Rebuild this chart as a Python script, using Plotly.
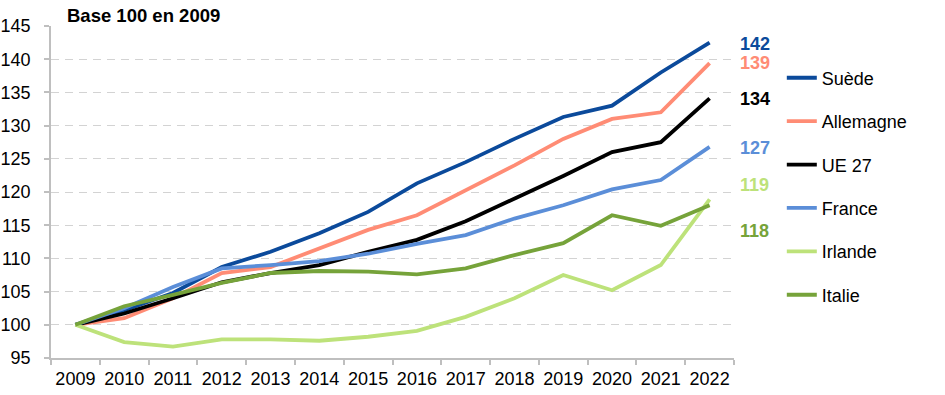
import plotly.graph_objects as go

years = ["2009", "2010", "2011", "2012", "2013", "2014", "2015", "2016",
         "2017", "2018", "2019", "2020", "2021", "2022"]

suede = [100, 102.2, 104.8, 108.7, 111.0, 113.8, 117.0, 121.3, 124.5, 128.0, 131.3, 133.0, 138.0, 142.5]
allemagne = [100, 101.0, 104.0, 107.8, 108.7, 111.5, 114.3, 116.5, 120.3, 124.0, 128.0, 131.0, 132.0, 139.4]
ue27 = [100, 101.7, 104.0, 106.4, 107.8, 109.0, 111.0, 112.8, 115.6, 119.0, 122.4, 126.0, 127.5, 134.1]
france = [100, 102.5, 105.7, 108.5, 109.0, 109.6, 110.7, 112.2, 113.5, 116.0, 118.0, 120.4, 121.8, 126.8]
irlande = [100, 97.4, 96.7, 97.8, 97.8, 97.6, 98.2, 99.1, 101.2, 104.0, 107.5, 105.2, 109.0, 118.9]
italie = [100, 102.8, 104.5, 106.3, 107.8, 108.1, 108.0, 107.6, 108.5, 110.5, 112.3, 116.5, 114.9, 118.0]

series_names = ["Suède", "Allemagne", "UE 27", "France", "Irlande", "Italie"]
series_values = [suede, allemagne, ue27, france, irlande, italie]
series_colors = ["#0B4A9B", "#FF8C75", "#000000", "#5B8ED8", "#BDE27A", "#76A33A"]
end_labels = ["142", "139", "134", "127", "119", "118"]
label_shift = [-1, 0, -1, -1, 14, -26]

FONT = "Liberation Sans, Arial, sans-serif"
FS = 18

fig = go.Figure()
last_idx = len(years) - 1
for i, (name, vals, col) in enumerate(zip(series_names, series_values, series_colors)):
    fig.add_trace(go.Scatter(
        x=years, y=vals, mode="lines", name=name,
        line=dict(color=col, width=3.8),
        legendgroup=str(i),
    ))
    fig.add_annotation(
        x=last_idx, y=vals[-1], xref="x", yref="y",
        text="<b>%s</b>" % end_labels[i], showarrow=False,
        xanchor="left", yanchor="middle", xshift=28, yshift=label_shift[i],
        font=dict(family=FONT, size=FS, color=col),
    )

fig.add_annotation(
    x=0, y=1, xref="paper", yref="paper", text="<b>Base 100 en 2009</b>",
    showarrow=False, xanchor="left", yanchor="bottom", xshift=14, yshift=-2,
    font=dict(family=FONT, size=FS + 0.5, color="#000000"),
)

fig.update_layout(
    template="none",
    width=945, height=395,
    margin=dict(l=51, r=211, t=26, b=37, autoexpand=False),
    paper_bgcolor="white", plot_bgcolor="white",
    font=dict(family=FONT, size=FS, color="#000000"),
    showlegend=True,
    legend=dict(
        x=1.07, y=0.899, xanchor="left", yanchor="top",
        font=dict(family=FONT, size=FS, color="#000000"),
        tracegroupgap=17, bgcolor="rgba(0,0,0,0)", borderwidth=0,
    ),
)

fig.update_xaxes(
    type="category", range=[-0.5, 13.5], automargin=False, tickangle=0,
    showline=True, linecolor="#BFBFBF", linewidth=1.5,
    ticks="outside", tickson="boundaries", ticklen=5, tickcolor="#BFBFBF", tickwidth=1.5,
    showgrid=False, ticklabelstandoff=4,
    tickfont=dict(family=FONT, size=FS, color="#000000"),
)
fig.update_yaxes(
    range=[95, 145], dtick=5, tick0=95, automargin=False,
    showline=True, linecolor="#BFBFBF", linewidth=1.5,
    ticks="outside", ticklen=5, tickcolor="#BFBFBF", tickwidth=1.5,
    showgrid=True, gridcolor="#D3D3D3", gridwidth=1, griddash="8px,6px",
    zeroline=False, ticklabelstandoff=10,
    tickfont=dict(family=FONT, size=FS, color="#000000"),
)

fig.write_html("out.html", config={"displayModeBar": False},
               post_script="document.body.style.margin='0';")
